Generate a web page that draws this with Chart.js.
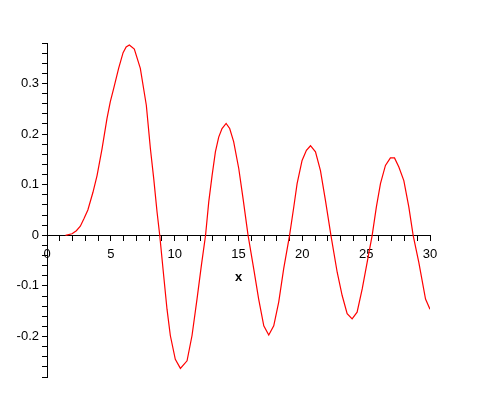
<!DOCTYPE html>
<html>
<head>
<meta charset="utf-8">
<script src="https://cdn.jsdelivr.net/npm/chart.js@4.4.0/dist/chart.umd.min.js"></script>
<style>
  body { margin: 0; background: #fff; }
</style>
</head>
<body>
<canvas id="plot" width="480" height="420"></canvas>
<script>
// values
const xValues = [1.45, 1.96, 2.3, 2.61, 2.9, 3.2, 3.6, 3.92, 4.31, 4.70, 4.96, 5.22, 5.61, 5.96, 6.2, 6.45, 6.84,
  7.31, 7.78, 8.10, 8.36, 8.62, 8.83, 9.14, 9.40, 9.66, 10.05, 10.45, 10.97, 11.36, 11.75, 12.09,
  12.42, 12.67, 12.93, 13.19, 13.45, 13.71, 14.03, 14.31, 14.62, 15.02, 15.36, 15.75, 16.19, 16.58,
  16.98, 17.37, 17.76, 18.15, 18.54, 19.0, 19.33, 19.59, 19.98, 20.32, 20.64, 21.03, 21.42, 21.81,
  22.24, 22.73, 23.12, 23.51, 23.90, 24.29, 24.69, 25.08, 25.47, 25.80, 26.12, 26.51, 26.90, 27.22,
  27.56, 27.95, 28.34, 28.68, 29.12, 29.65, 30.0];
const yValues = [0, 0.003, 0.009, 0.018, 0.033, 0.050, 0.085, 0.118, 0.171, 0.231, 0.264, 0.290, 0.330, 0.361, 0.372, 0.376, 0.368,
  0.330, 0.257, 0.171, 0.112, 0.046, 0, -0.080, -0.146, -0.198, -0.245, -0.263, -0.248, -0.198, -0.126, -0.060,
  0, 0.066, 0.118, 0.165, 0.194, 0.211, 0.221, 0.211, 0.185, 0.132, 0.072, 0, -0.066, -0.126,
  -0.179, -0.197, -0.179, -0.132, -0.066, 0, 0.056, 0.102, 0.148, 0.168, 0.177, 0.165, 0.128, 0.069,
  0, -0.073, -0.119, -0.155, -0.165, -0.152, -0.106, -0.053, 0, 0.056, 0.102, 0.138, 0.153, 0.153,
  0.135, 0.108, 0.056, 0, -0.053, -0.126, -0.146];

const xMajor = 5;     // labelled every 5, tick every 1
const yMajor = 10;    // in hundredths: labelled every 0.1, tick every 0.02

let points = xValues.map((x, i) => ({ x: x, y: yValues[i] }));

const labelFont = { family: '"Liberation Sans", Arial, sans-serif', size: 13 };
Chart.defaults.color = '#000';

new Chart(document.getElementById('plot'), {
  type: 'scatter',
  data: {
    datasets: [{
      data: points,
      showLine: true,
      borderColor: '#ff0000',
      borderWidth: 1.2,
      pointRadius: 0,
      tension: 0
    }]
  },
  options: {
    responsive: false,
    animation: false,
    layout: { padding: { left: 0, right: 50, top: 43, bottom: 43 } },
    plugins: { legend: { display: false }, tooltip: { enabled: false } },
    scales: {
      x: {
        type: 'linear',
        position: { y: 0 },
        min: 0, max: 30,
        border: { color: '#000', width: 1 },
        grid: { drawOnChartArea: false, color: '#000', tickLength: 5 },
        ticks: {
          font: labelFont,
          stepSize: 1, autoSkip: false, maxRotation: 0, padding: 6,
          callback: v => (Math.round(v) % xMajor === 0 ? String(v) : '')
        },
        title: {
          display: true, text: 'x',
          font: { family: labelFont.family, size: 13, weight: 'bold' },
          padding: { top: 2, bottom: 0 }
        }
      },
      y: {
        type: 'linear',
        position: 'left',
        min: -0.28, max: 0.38,
        afterFit: s => { s.width = 47; },
        border: { color: '#000', width: 1 },
        grid: { drawOnChartArea: false, color: '#000', tickLength: 5 },
        ticks: {
          font: labelFont,
          stepSize: 0.02, autoSkip: false, padding: 3,
          callback: v => {
            let k = Math.round(v * 100);
            if (k % yMajor !== 0) return '';
            return k === 0 ? '0' : (k / 100).toString();
          }
        }
      }
    }
  }
});
</script>
</body>
</html>
